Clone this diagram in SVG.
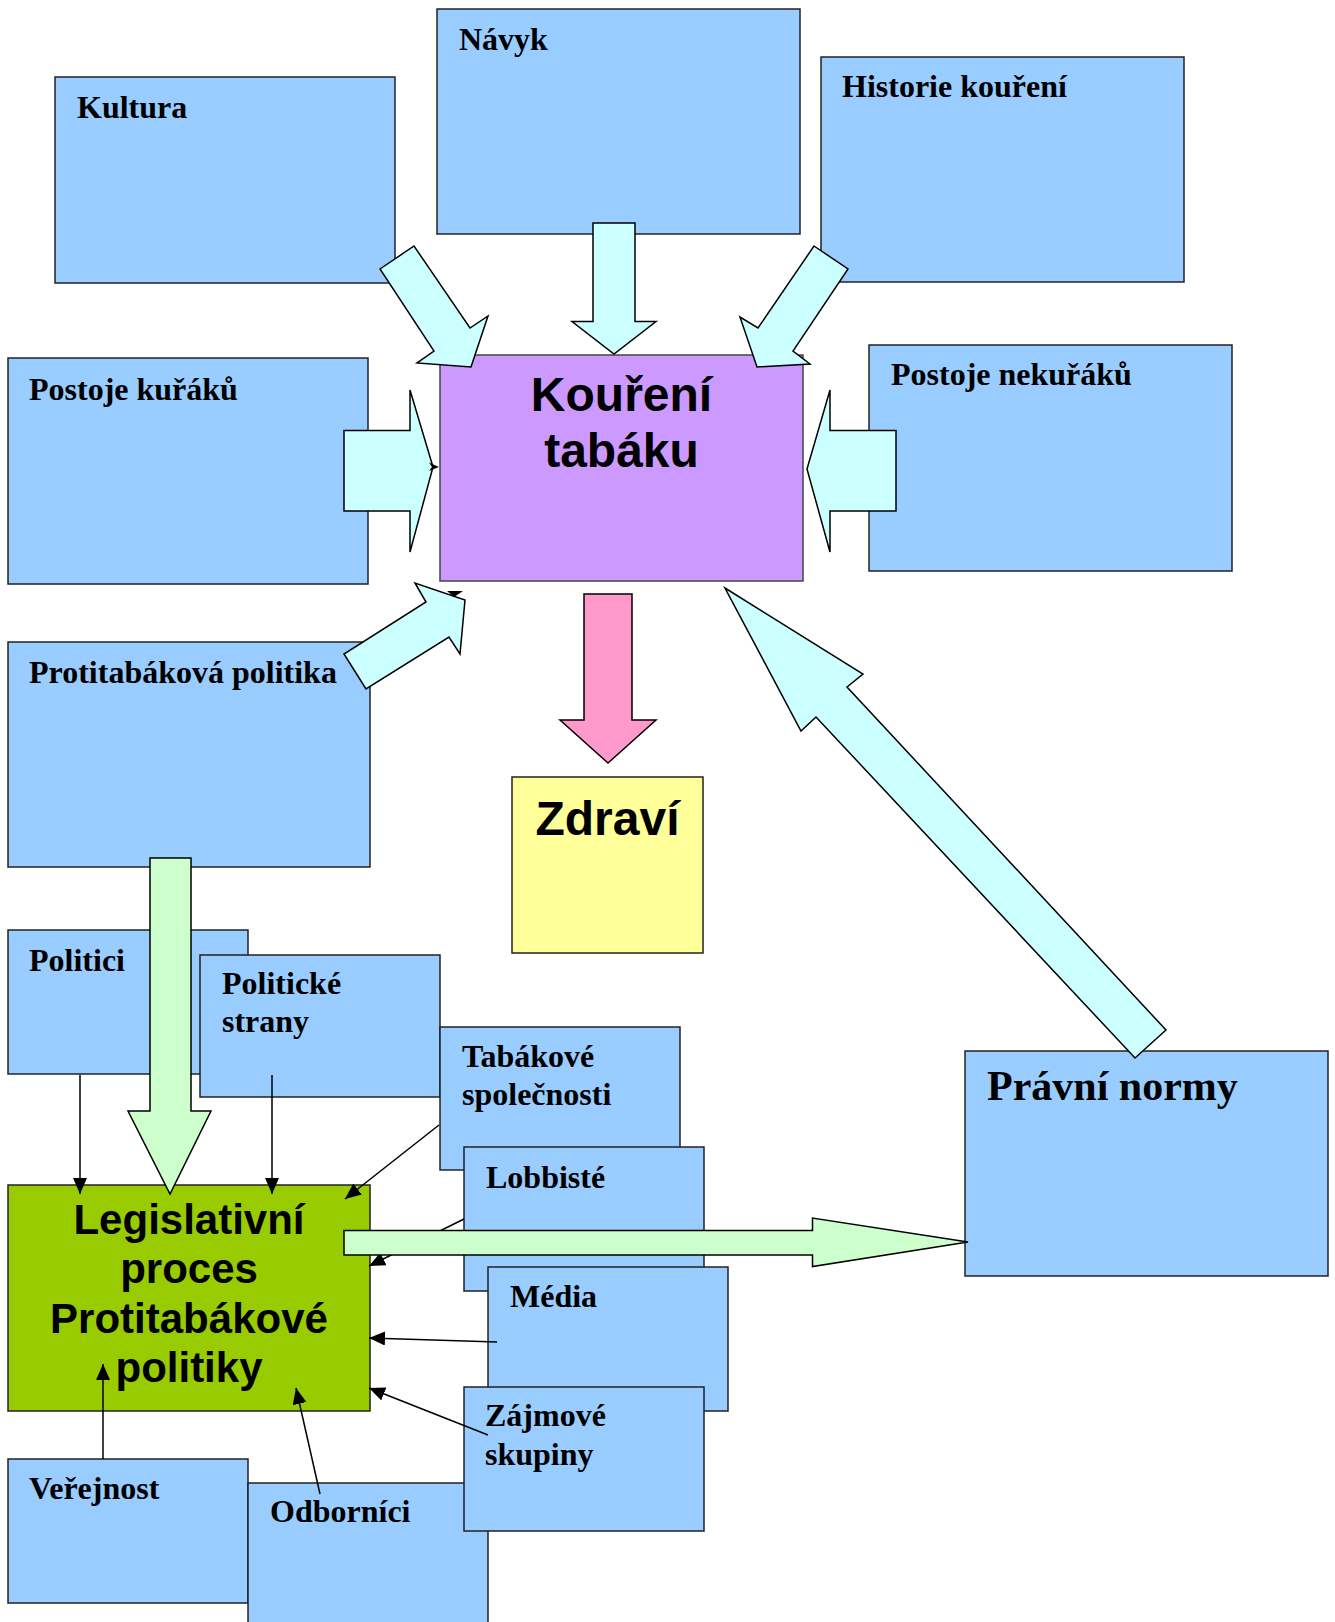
<svg xmlns="http://www.w3.org/2000/svg" width="1335" height="1622" viewBox="0 0 1335 1622">
<defs>
<style>
.box{fill:#99CCFF;stroke:#222;stroke-width:1.5}
.lbl{font-family:"Liberation Serif","Times New Roman",serif;font-weight:bold;font-size:32px;fill:#000}
.big{font-family:"Liberation Sans",Arial,sans-serif;font-weight:bold;font-size:48px;fill:#000;text-anchor:middle}
.leg{font-family:"Liberation Sans",Arial,sans-serif;font-weight:bold;font-size:42px;fill:#000;text-anchor:middle}
.cy{fill:#CCFFFF;stroke:#000;stroke-width:1.5;stroke-linejoin:miter}
.gr{fill:#CCFFCC;stroke:#000;stroke-width:1.5}
.pk{fill:#FF99CC;stroke:#000;stroke-width:1.5}
.ln{fill:none;stroke:#000;stroke-width:1.5;marker-end:url(#ah)}
</style>
<marker id="ah" markerUnits="userSpaceOnUse" markerWidth="16" markerHeight="14" refX="16" refY="7" orient="auto">
<path d="M0,0 L16,7 L0,14 z" fill="#000"/>
</marker>
</defs>
<rect width="1335" height="1622" fill="#fff"/>
<g id="kultura"><rect class="box" x="55" y="77" width="340" height="206"/><text class="lbl" x="77" y="118">Kultura</text></g>
<g id="navyk"><rect class="box" x="437" y="9" width="363" height="225"/><text class="lbl" x="459" y="50">Návyk</text></g>
<g id="historie"><rect class="box" x="821" y="57" width="363" height="225"/><text class="lbl" x="842" y="97">Historie kouření</text></g>
<g id="postoje-kuraku"><rect class="box" x="8" y="358" width="360" height="226"/><text class="lbl" x="29" y="400">Postoje kuřáků</text></g>
<g id="koureni"><rect x="440" y="355" width="363" height="226" fill="#CC99FF" stroke="#444" stroke-width="1.5"/><text class="big" x="621.5" y="411">Kouření</text><text class="big" x="621.5" y="467">tabáku</text></g>
<g id="postoje-nekuraku"><rect class="box" x="869" y="345" width="363" height="226"/><text class="lbl" x="891" y="385">Postoje nekuřáků</text></g>
<g id="protitabakova"><rect class="box" x="8" y="642" width="362" height="225"/><text class="lbl" x="29" y="683">Protitabáková politika</text></g>
<g id="zdravi"><rect x="512" y="777" width="191" height="176" fill="#FFFF99" stroke="#222" stroke-width="1.5"/><text class="big" x="607.5" y="835">Zdraví</text></g>
<g id="politici"><rect class="box" x="8" y="930" width="240" height="144"/><text class="lbl" x="29" y="971">Politici</text></g>
<g id="politicke-strany"><rect class="box" x="200" y="955" width="240" height="142"/><text class="lbl" x="222" y="994">Politické</text><text class="lbl" x="222" y="1032">strany</text></g>
<g id="tabakove"><rect class="box" x="440" y="1027" width="240" height="143"/><text class="lbl" x="462" y="1067">Tabákové</text><text class="lbl" x="462" y="1105">společnosti</text></g>
<g id="lobbiste"><rect class="box" x="464" y="1147" width="240" height="144"/><text class="lbl" x="486" y="1188">Lobbisté</text></g>
<g id="media"><rect class="box" x="488" y="1267" width="240" height="144"/><text class="lbl" x="510" y="1307">Média</text></g>
<g id="verejnost"><rect class="box" x="8" y="1459" width="240" height="144"/><text class="lbl" x="29" y="1499">Veřejnost</text></g>
<g id="odbornici"><rect class="box" x="248" y="1483" width="240" height="150"/><text class="lbl" x="270" y="1522">Odborníci</text></g>
<g id="zajmove"><rect class="box" x="464" y="1387" width="240" height="144"/><text class="lbl" x="485" y="1426">Zájmové</text><text class="lbl" x="485" y="1465">skupiny</text></g>
<g id="legislativni"><rect x="8" y="1185" width="362" height="226" fill="#99CC00" stroke="#222" stroke-width="1.5"/><text class="leg" x="189" y="1234">Legislativní</text><text class="leg" x="189" y="1283">proces</text><text class="leg" x="189" y="1333">Protitabákové</text><text class="leg" x="189" y="1382">politiky</text></g>
<g id="pravni-normy"><rect class="box" x="965" y="1051" width="363" height="225"/><text class="lbl" x="987" y="1100" style="font-size:42px">Právní normy</text></g>
<g id="connectors">
<line class="ln" x1="80" y1="1075" x2="80" y2="1194"/>
<line class="ln" x1="272" y1="1075" x2="272" y2="1194"/>
<line class="ln" x1="439" y1="1125" x2="345" y2="1199"/>
<line class="ln" x1="464" y1="1219" x2="369" y2="1266"/>
<line class="ln" x1="497" y1="1342" x2="369" y2="1338"/>
<line class="ln" x1="488" y1="1435" x2="369" y2="1388"/>
<line class="ln" x1="103" y1="1459" x2="103" y2="1364"/>
<line class="ln" x1="320" y1="1494" x2="296" y2="1388"/>
<polygon class="cy" points="380,269 414,246 470,328 488,316 471,367 417,363 434,351"/>
<polygon class="cy" points="593,223 635,223 635,321.5 656,321.5 614,354 572,321.5 593,321.5"/>
<polygon class="cy" points="814,246 848,269 793,351 810,364 757,367 740,317 758,328"/>
<polygon class="cy" points="344,430.5 410,430.5 410,390 433,467 410,552 410,511 344,511"/>
<polygon class="cy" points="896,430.5 830,430.5 830,390 807,469 830,552 830,511 896,511"/>
<polygon class="cy" points="344,654 366,689 449,637 460,654 465,600 415,583 426,602"/>
<polygon class="cy" points="725,588 863,674 847,687 1166,1030 1135,1058 816,717 801,731"/>
<polygon class="pk" points="584,594 632,594 632,720 656,720 608,763 560,720 584,720"/>
<polygon class="gr" points="150,858 191,858 191,1111 211,1111 170,1194 128,1111 150,1111"/>
<polygon class="gr" points="344,1230.5 812.5,1230.5 812.5,1218 968,1242 812.5,1266.5 812.5,1255 344,1255"/>
<polygon points="429,462.5 439,467 429,471 432,467" fill="#000"/>
<polygon points="447,591 463,591 454,597" fill="#000"/>
</g>
</svg>
